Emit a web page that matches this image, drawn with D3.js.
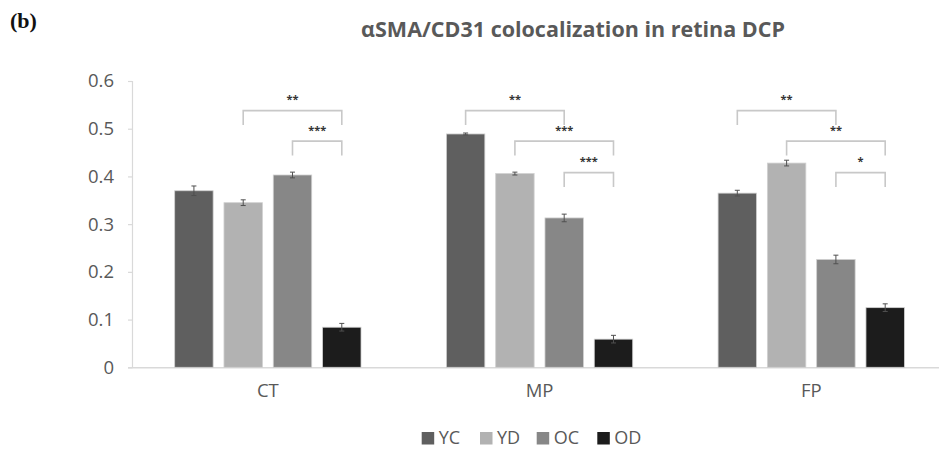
<!DOCTYPE html>
<html><head><meta charset="utf-8">
<script src="https://cdn.jsdelivr.net/npm/d3@7"></script>
<style>body{margin:0;background:#fff}svg{display:block}</style>
</head><body><svg id="c" width="939" height="450"></svg>
<script>
const categories = ["CT", "MP", "FP"];
const seriesNames = ["YC", "YD", "OC", "OD"];
const seriesColors = ["#5f5f5f", "#b2b2b2", "#878787", "#1c1c1c"];
const valuesYC = [0.370, 0.489, 0.365];
const valuesYD = [0.345, 0.406, 0.428];
const valuesOC = [0.403, 0.313, 0.226];
const valuesOD = [0.084, 0.059, 0.125];
const errYC = [0.010, 0.002, 0.006];
const errYD = [0.006, 0.003, 0.006];
const errOC = [0.006, 0.008, 0.009];
const errOD = [0.008, 0.008, 0.008];
const yTicks = [0, 0.1, 0.2, 0.3, 0.4, 0.5, 0.6];
const bracketLevels = [0.538, 0.474, 0.408];
// significance: [category, fromSeries, toSeries, level, label]
const sigCT = [["CT", "YD", "OD", 0, "**"], ["CT", "OC", "OD", 1, "***"]];
const sigMP = [["MP", "YC", "OC", 0, "**"], ["MP", "YD", "OD", 1, "***"], ["MP", "OC", "OD", 2, "***"]];
const sigFP = [["FP", "YC", "OC", 0, "**"], ["FP", "YD", "OD", 1, "**"], ["FP", "OC", "OD", 2, "*"]];

const values = [valuesYC, valuesYD, valuesOC, valuesOD];
const errs = [errYC, errYD, errOC, errOD];
const svg = d3.select("#c");
const font = "'Open Sans', sans-serif";
const txt = "#595959";

const y = d3.scaleLinear().domain([0, 0.6]).range([367.3, 81]);
const x0 = d3.scaleBand().domain(categories).range([132, 947.1]).padding(0);
const x1 = d3.scaleBand().domain(seriesNames).range([0, x0.bandwidth()]).paddingInner(0.22).paddingOuter(0.866);
const color = d3.scaleOrdinal().domain(seriesNames).range(seriesColors);

// y axis
const yAxis = d3.axisLeft(y).tickValues(yTicks).tickSize(4).tickPadding(14).tickFormat(d => d === 0 ? "0" : d3.format(".1f")(d));
const gy = svg.append("g").attr("transform", "translate(132,0)").call(yAxis);
gy.select(".domain").attr("stroke", "#d9d9d9").attr("stroke-width", 1.2);
gy.selectAll(".tick line").attr("stroke", "#d9d9d9").attr("stroke-width", 1.2);
gy.selectAll(".tick text").attr("fill", txt).style("font-family", font).style("font-size", "18.5px");

// x axis
const xAxis = d3.axisBottom(x0).tickSize(0).tickPadding(17);
const gx = svg.append("g").attr("transform", `translate(0,${y(0)})`).call(xAxis);
gx.select(".domain").attr("stroke", "#d9d9d9").attr("stroke-width", 1.5);
gx.selectAll(".tick text").attr("fill", txt).style("font-family", font).style("font-size", "18.5px");

// bars
const rows = [];
categories.forEach((c, ci) => seriesNames.forEach((s, si) => rows.push({c, s, v: values[si][ci], e: errs[si][ci]})));
svg.append("g").selectAll("rect").data(rows).join("rect")
  .attr("x", d => x0(d.c) + x1(d.s))
  .attr("y", d => y(d.v))
  .attr("width", x1.bandwidth())
  .attr("height", d => y(0) - y(d.v))
  .attr("fill", d => color(d.s))
  .attr("stroke", "#d0d0d0").attr("stroke-width", 0.8);

// error bars
const eg = svg.append("g").attr("stroke", "#505050").attr("stroke-width", 1);
rows.forEach(d => {
  const cx = x0(d.c) + x1(d.s) + x1.bandwidth() / 2;
  eg.append("line").attr("x1", cx).attr("x2", cx).attr("y1", y(d.v + d.e)).attr("y2", y(d.v - d.e));
  eg.append("line").attr("x1", cx - 2.5).attr("x2", cx + 2.5).attr("y1", y(d.v + d.e)).attr("y2", y(d.v + d.e));
  eg.append("line").attr("x1", cx - 2.5).attr("x2", cx + 2.5).attr("y1", y(d.v - d.e)).attr("y2", y(d.v - d.e));
});

// significance brackets
const bg = svg.append("g");
[...sigCT, ...sigMP, ...sigFP].forEach(([c, a, b, lvl, lab]) => {
  const xa = x0(c) + x1(a) + x1.bandwidth() / 2;
  const xb = x0(c) + x1(b) + x1.bandwidth() / 2;
  const yt = y(bracketLevels[lvl]);
  const drop = y(0) - y(0.03);
  bg.append("path").attr("d", `M${xa},${yt + drop}V${yt}H${xb}V${yt + drop}`)
    .attr("fill", "none").attr("stroke", "#c8c8c8").attr("stroke-width", 1.6);
  bg.append("text").attr("x", (xa + xb) / 2).attr("y", yt - 13).attr("dy", "0.5em")
    .attr("text-anchor", "middle").attr("fill", "#333").style("font-family", font)
    .style("font-size", "11px").style("font-weight", "bold").text(lab);
});

// title
svg.append("text").attr("x", 573).attr("y", 37).attr("text-anchor", "middle")
  .attr("fill", txt).style("font-family", font).style("font-weight", "bold").style("font-size", "21.5px")
  .text("αSMA/CD31 colocalization in retina DCP");
svg.append("text").attr("x", 10).attr("y", 28).attr("fill", "#111")
  .style("font-family", "'Liberation Serif', serif").style("font-weight", "bold").style("font-size", "22px").text("(b)");

// legend
const legX = [421.7, 480, 536.7, 597.3];
const lg = svg.append("g");
seriesNames.forEach((s, i) => {
  lg.append("rect").attr("x", legX[i]).attr("y", 432).attr("width", 12.5).attr("height", 12.5).attr("fill", color(s));
  lg.append("text").attr("x", legX[i] + 17).attr("y", 438).attr("dy", "0.35em").attr("fill", txt)
    .style("font-family", font).style("font-size", "18px").text(s);
});
</script></body></html>
